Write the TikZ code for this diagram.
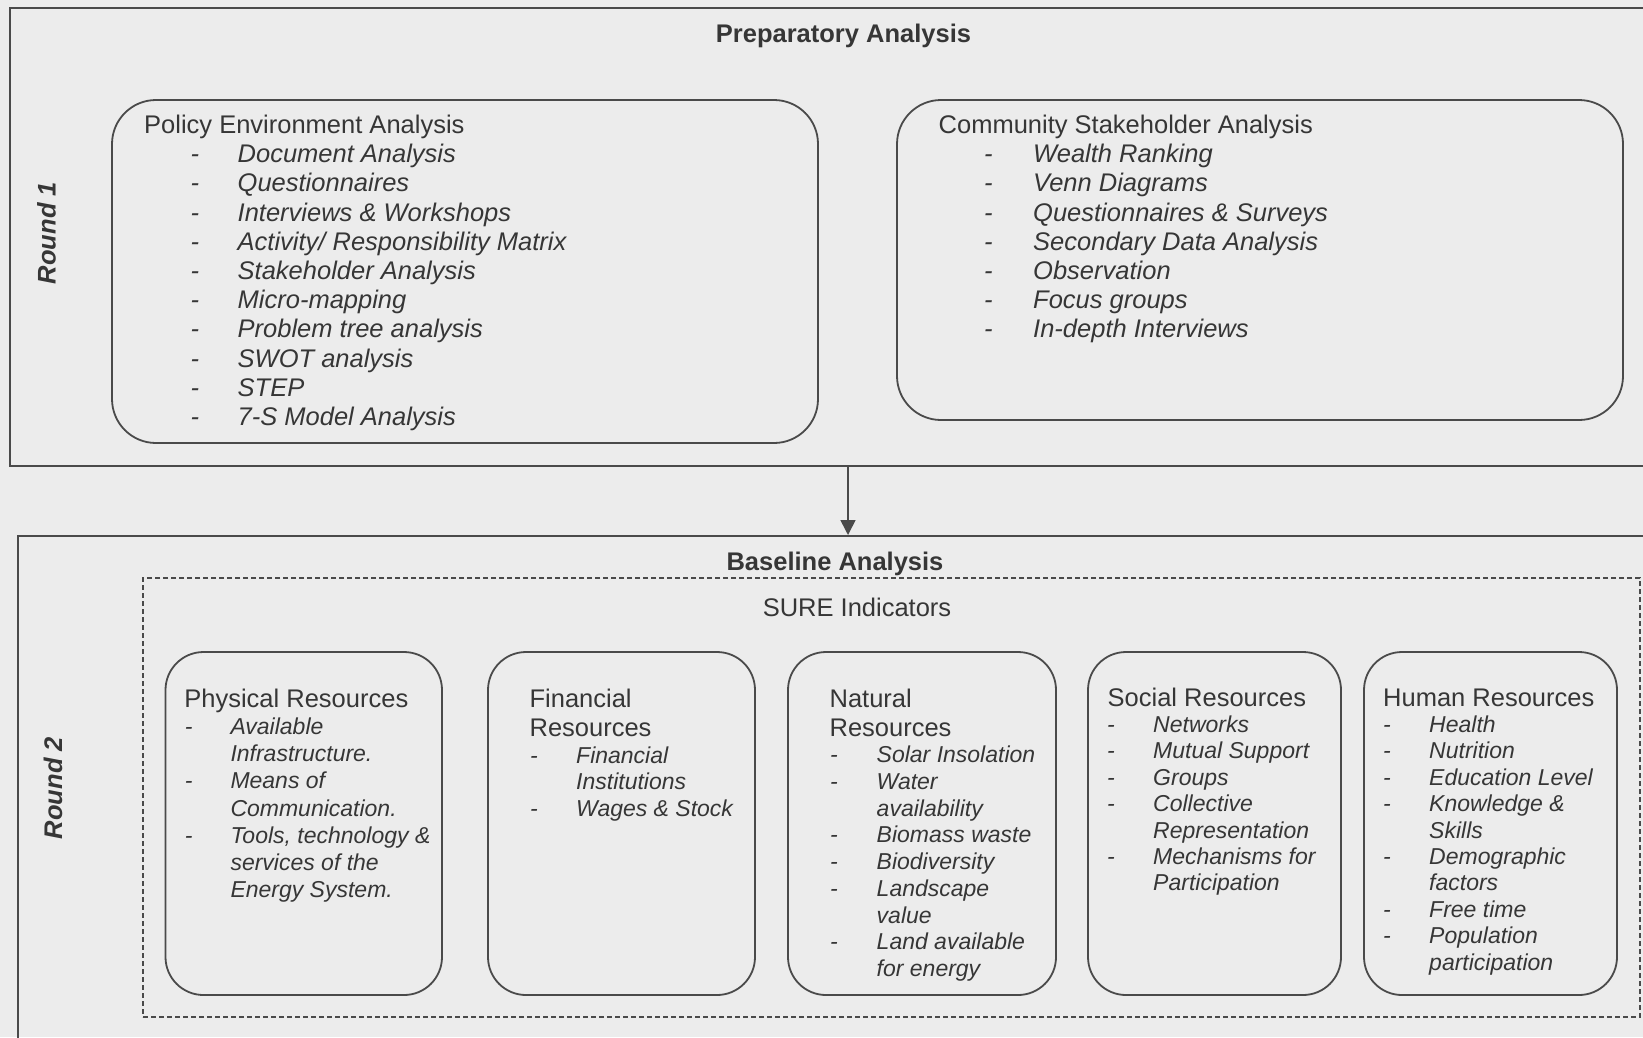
\documentclass[tikz,border=0pt]{standalone}
\usepackage{fontspec}
\setmainfont{Liberation Sans}
\usetikzlibrary{arrows.meta,fit}

\definecolor{paper}{HTML}{ECECEC}
\definecolor{ink}{HTML}{4A4A4A}
\definecolor{txt}{HTML}{363636}

\tikzset{
  frame/.style={draw=ink, line width=2pt, inner sep=0pt},
  panel/.style={draw=ink, line width=1.8pt, rounded corners=44pt, inner sep=0pt},
  respanel/.style={draw=ink, line width=1.8pt, rounded corners=38pt, inner sep=0pt},
  group/.style={draw=ink, line width=1.4pt, dash pattern=on 5pt off 3pt, inner sep=0pt},
  conn/.style={draw=ink, line width=1.6pt, -{Triangle[width=15pt,length=15pt]}},
  head/.style={font=\fontsize{25.5}{29}\selectfont, text=txt, inner sep=0pt},
  boldhead/.style={font=\fontsize{25.5}{29}\selectfont\bfseries, text=txt, inner sep=0pt},
  roundlabel/.style={font=\fontsize{25.5}{29}\selectfont\bfseries\itshape, text=txt, inner sep=0pt, rotate=90},
  bigitem/.style={font=\fontsize{25.5}{29}\selectfont\itshape, text=txt, inner sep=0pt},
  smallitem/.style={font=\fontsize{23}{26}\selectfont\itshape, text=txt, inner sep=0pt},
}

% #1 name prefix, #2 dash centre x, #3 text left x, #4 first baseline,
% #5 line step, #6 item style, #7 list of flag/text (flag 1 = line opens an item)
\newcommand\dashlist[7]{%
  \foreach \d/\t [count=\i] in {#7}{%
    \node[#6, anchor=base west] (#1-\i) at (#3, {#4+(\i-1)*#5}) {\t};
    \ifnum\d=1
      \node[#6, anchor=base] (#1-m\i) at (#2, {#4+(\i-1)*#5}) {-};
    \fi
  }%
}

\begin{document}
\begin{tikzpicture}[x=1pt, y=-1pt]
\useasboundingbox (0,0) rectangle (1643,1037);
\fill[paper] (0,0) rectangle (1643,1037);

% ---------- Round 1: preparatory analysis ----------
\coordinate (r1nw) at (10,8);
\coordinate (r1se) at (1665,466);
\node[frame, fit=(r1nw)(r1se)] (round1) {};

\node[boldhead, anchor=base] (prep) at (843.5,42.5) {Preparatory Analysis};
\node[roundlabel] (r1lab) at (46.6,233) {Round 1};

\coordinate (polnw) at (112,100);
\coordinate (polse) at (818,443);
\node[panel, fit=(polnw)(polse)] (policy) {};
\node[head, anchor=base west] (poltitle) at (144,133.5) {Policy Environment Analysis};
\dashlist{pol}{194.8}{237.5}{162.7}{29.2}{bigitem}{1/Document Analysis, 1/Questionnaires,
  1/Interviews \& Workshops, 1/{Activity/ Responsibility Matrix}, 1/Stakeholder Analysis,
  1/Micro-mapping, 1/Problem tree analysis, 1/SWOT analysis, 1/STEP, 1/7-S Model Analysis}

\coordinate (comnw) at (897,100);
\coordinate (comse) at (1623,420);
\node[panel, fit=(comnw)(comse)] (community) {};
\node[head, anchor=base west] (comtitle) at (938.5,133.5) {Community Stakeholder Analysis};
\dashlist{com}{988.3}{1033}{162.7}{29.2}{bigitem}{1/Wealth Ranking, 1/Venn Diagrams,
  1/Questionnaires \& Surveys, 1/Secondary Data Analysis, 1/Observation,
  1/Focus groups, 1/In-depth Interviews}

% ---------- Round 2: baseline analysis ----------
\coordinate (r2nw) at (18,536);
\coordinate (r2se) at (1665,1050);
\node[frame, fit=(r2nw)(r2se)] (round2) {};

\coordinate (ax) at (848,0);
\draw[conn] (round1.south -| ax) -- (round2.north -| ax);

\node[boldhead, anchor=base] (base) at (835,570) {Baseline Analysis};
\node[roundlabel] (r2lab) at (53,788) {Round 2};

\coordinate (surenw) at (143,578);
\coordinate (surese) at (1640,1017);
\node[group, fit=(surenw)(surese)] (sure) {};
\node[head, anchor=base] (suretitle) at (857,616.5) {SURE Indicators};

% Physical resources
\coordinate (phynw) at (165.5,652);
\coordinate (physe) at (442,995);
\node[respanel, fit=(phynw)(physe)] (physical) {};
\node[head, anchor=base west] (phytitle) at (184.2,707.5) {Physical Resources};
\dashlist{phy}{188.7}{230.3}{734.7}{27.1}{smallitem}{1/Available, 0/Infrastructure.,
  1/Means of, 0/Communication., 1/{Tools, technology \&}, 0/services of the,
  0/Energy System.}

% Financial resources
\coordinate (finnw) at (488,652);
\coordinate (finse) at (755,995);
\node[respanel, fit=(finnw)(finse)] (financial) {};
\node[head, anchor=base west] (fintitle1) at (529.4,707.5) {Financial};
\node[head, anchor=base west] (fintitle2) at (529.4,736.3) {Resources};
\dashlist{fin}{534}{576}{763}{26.7}{smallitem}{1/Financial, 0/Institutions,
  1/Wages \& Stock}

% Natural resources
\coordinate (natnw) at (788,652);
\coordinate (natse) at (1056,995);
\node[respanel, fit=(natnw)(natse)] (natural) {};
\node[head, anchor=base west] (nattitle1) at (829.4,707.5) {Natural};
\node[head, anchor=base west] (nattitle2) at (829.4,736.3) {Resources};
\dashlist{nat}{834}{876.5}{762.5}{26.75}{smallitem}{1/Solar Insolation, 1/Water,
  0/availability, 1/Biomass waste, 1/Biodiversity, 1/Landscape, 0/value,
  1/Land available, 0/for energy}

% Social resources
\coordinate (socnw) at (1088,652);
\coordinate (socse) at (1341,995);
\node[respanel, fit=(socnw)(socse)] (social) {};
\node[head, anchor=base west] (soctitle) at (1107.5,706.5) {Social Resources};
\dashlist{soc}{1111}{1153}{732.5}{26.4}{smallitem}{1/Networks, 1/Mutual Support,
  1/Groups, 1/Collective, 0/Representation, 1/Mechanisms for, 0/Participation}

% Human resources
\coordinate (humnw) at (1364,652);
\coordinate (humse) at (1617,995);
\node[respanel, fit=(humnw)(humse)] (human) {};
\node[head, anchor=base west] (humtitle) at (1383,706.5) {Human Resources};
\dashlist{hum}{1387}{1429}{732.5}{26.4}{smallitem}{1/Health, 1/Nutrition,
  1/Education Level, 1/Knowledge \&, 0/Skills, 1/Demographic, 0/factors,
  1/Free time, 1/Population, 0/participation}

\end{tikzpicture}
\end{document}
